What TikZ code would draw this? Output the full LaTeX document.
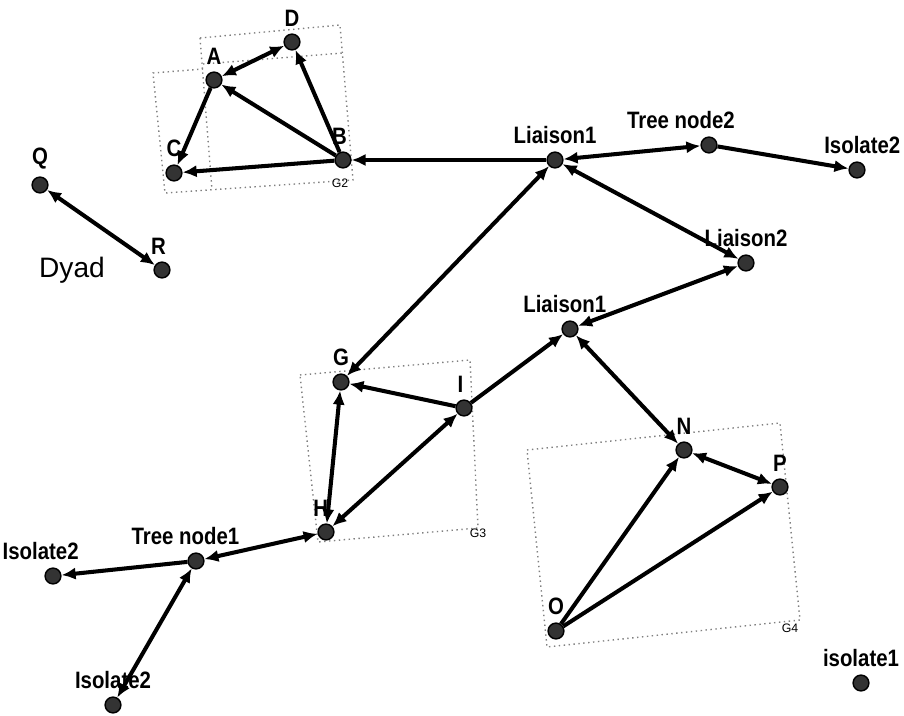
\documentclass[tikz,border=0pt]{standalone}
\usepackage{fontspec}
\setmainfont{Liberation Sans}
\newfontfamily\narrowsans{Liberation Sans}[FakeStretch=0.86]
\usetikzlibrary{arrows.meta}

\begin{document}
\begin{tikzpicture}[x=0.02cm, y=-0.02cm,
    actor/.style={circle, draw=black, fill=black!80, line width=0.8pt, minimum size=9pt, inner sep=0pt},
    lbl/.style={font=\narrowsans\bfseries\fontsize{13.5}{13.5}\selectfont, inner sep=1pt, label distance=3pt},
    tie/.style={line width=2.3pt, >={Latex[length=8pt,width=7pt]}},
    grp/.style={gray, dotted, line width=0.8pt},
    grplbl/.style={font=\fontsize{7}{7}\selectfont, inner sep=1pt}]

    \useasboundingbox (0,0) rectangle (904,716);

    % group boxes
    \draw[grp] (200,38) -- (340,25) -- (353,180) -- (165,193) -- (153,73) -- (203,69);
    \draw[grp] (200,38) -- (212,190);
    \draw[grp] (203,64) -- (343,53);
    \node[grplbl] (g2) at (340,183) {G2};
    \draw[grp] (300,375) -- (470,360) -- (478,528) -- (318,542) -- cycle;
    \node[grplbl] (g3) at (478,533) {G3};
    \draw[grp] (527,450) -- (780,423) -- (800,620) -- (547,647) -- cycle;
    \node[grplbl] (g4) at (790,628) {G4};

    % actors
    \node[actor, label={[lbl]above:D}] (d) at (292,42) {};
    \node[actor, label={[lbl]above:A}] (a) at (214,80) {};
    \node[actor, label={[lbl]above:C}] (c) at (174,173) {};
    \node[actor, label={[lbl, xshift=-2pt]above:B}] (b) at (343,160) {};
    \node[actor, label={[lbl]above:Q}] (q) at (40,185) {};
    \node[actor, label={[lbl, xshift=-2pt]above:R}] (r) at (162,270) {};
    \node[font=\fontsize{16}{16}\selectfont] (dyad) at (72,270) {Dyad};
    \node[actor, label={[lbl]above:Liaison1}] (liaA) at (555,160) {};
    \node[actor, label={[lbl, xshift=-16pt]above:Tree node2}] (tree2) at (709,145) {};
    \node[actor, label={[lbl, xshift=3pt]above:Isolate2}] (isoR) at (857,170) {};
    \node[actor, label={[lbl]above:Liaison2}] (lia2) at (746,263) {};
    \node[actor, label={[lbl, xshift=-3pt]above:Liaison1}] (liaB) at (570,329) {};
    \node[actor, label={[lbl]above:G}] (g) at (341,382) {};
    \node[actor, label={[lbl, xshift=-2pt]above:I}] (i) at (464,408) {};
    \node[actor, label={[lbl, xshift=-3pt]above:H}] (h) at (326,532) {};
    \node[actor, label={[lbl, xshift=-6pt]above:Tree node1}] (tree1) at (196,561) {};
    \node[actor, label={[lbl, xshift=-7pt]above:Isolate2}] (isoL) at (53,576) {};
    \node[actor, label={[lbl]above:Isolate2}] (isoB) at (113,705) {};
    \node[actor, label={[lbl]above:N}] (n) at (684,450) {};
    \node[actor, label={[lbl]above:P}] (p) at (780,487) {};
    \node[actor, label={[lbl]above:O}] (o) at (556,631) {};
    \node[actor, label={[lbl]above:isolate1}] (iso1) at (861,683) {};

    % ties
    \draw[tie, <->] (a) -- (d);
    \draw[tie, ->] (b) -- (d);
    \draw[tie, ->] (b) -- (a);
    \draw[tie, ->] (a) -- (c);
    \draw[tie, ->] (b) -- (c);
    \draw[tie, ->] (liaA) -- (b);
    \draw[tie, <->] (liaA) -- (tree2);
    \draw[tie, ->] (tree2) -- (isoR);
    \draw[tie, <->] (lia2) -- (liaA);
    \draw[tie, <->] (g) -- (liaA);
    \draw[tie, ->] (i) -- (g);
    \draw[tie, <->] (h) -- (g);
    \draw[tie, <->] (h) -- (i);
    \draw[tie, ->] (i) -- (liaB);
    \draw[tie, <->] (liaB) -- (lia2);
    \draw[tie, <->] (liaB) -- (n);
    \draw[tie, ->] (o) -- (n);
    \draw[tie, ->] (o) -- (p);
    \draw[tie, <->] (n) -- (p);
    \draw[tie, <->] (tree1) -- (h);
    \draw[tie, ->] (tree1) -- (isoL);
    \draw[tie, <->] (tree1) -- (isoB);
    \draw[tie, <->] (q) -- (r);
\end{tikzpicture}
\end{document}
